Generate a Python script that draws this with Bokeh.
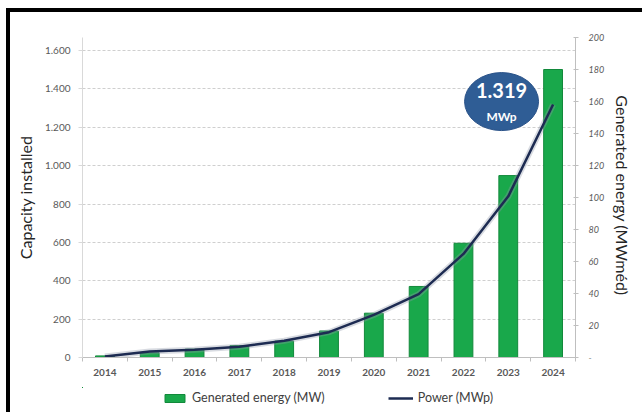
from bokeh.plotting import figure
from bokeh.models import (Range1d, LinearAxis, FixedTicker, Legend, LegendItem,
                          Label, ColumnDataSource)
from bokeh.layouts import column
from bokeh.embed import file_html
from bokeh.resources import INLINE

# ---------------- data ----------------
years = ["2014", "2015", "2016", "2017", "2018", "2019", "2020", "2021", "2022", "2023", "2024"]
power_mwp = [5, 31, 40, 56, 87, 132, 222, 330, 540, 840, 1319]          # left axis (line)
energy_mwmed = [1, 2.9, 5.2, 7.4, 10.3, 16.6, 27.7, 44.4, 71.4, 113.7, 180]  # right axis (bars)
left_ticks = [0, 200, 400, 600, 800, 1000, 1200, 1400, 1600]
right_ticks = [0, 20, 40, 60, 80, 100, 120, 140, 160, 180, 200]
left_title = "Capacity installed"
right_title = "Generated energy  (MWméd)"
bar_label = "Generated energy (MW)"
line_label = "Power (MWp)"
bubble_unit = "MWp"

FONT = "Lato"
BAR_FILL, BAR_LINE = "#19a84b", "#12893b"
LINE_COLOR = "#1d2b52"
W, H1, H2 = 632, 375, 25
x_idx = list(range(len(years)))
src = ColumnDataSource(dict(x=x_idx, power=power_mwp, energy=energy_mwmed))

p = figure(width=W, height=H1, output_backend="svg", toolbar_location=None,
           x_range=Range1d(-0.5, len(years) - 0.5), y_range=Range1d(0, 1668),
           min_border_left=72, min_border_right=67, min_border_top=25, min_border_bottom=30)
p.outline_line_color = None
p.background_fill_color = "white"
p.border_fill_color = "white"
p.extra_y_ranges = {"right": Range1d(0, 200)}

# grid
p.xgrid.grid_line_color = None
p.ygrid.ticker = FixedTicker(ticks=left_ticks)
p.ygrid.grid_line_color = "#cfcfcf"
p.ygrid.grid_line_dash = "3 2"

# left axis
ya = p.yaxis[0]
ya.ticker = FixedTicker(ticks=left_ticks)
ya.major_label_overrides = {v: f"{v:,}".replace(",", ".") for v in left_ticks}
ya.axis_label = left_title
ya.axis_label_text_font = FONT
ya.axis_label_text_font_size = "16px"
ya.axis_label_text_font_style = "normal"
ya.axis_label_text_color = "#262626"
ya.axis_label_standoff = 7
ya.major_label_text_font = FONT
ya.major_label_text_font_size = "10px"
ya.major_label_text_color = "#595959"
ya.major_label_standoff = 8
ya.axis_line_color = "#d9d9d9"
ya.major_tick_line_color = "#d9d9d9"
ya.major_tick_out = 4
ya.major_tick_in = 0
ya.minor_tick_line_color = None

# right axis
ra = LinearAxis(y_range_name="right", ticker=FixedTicker(ticks=right_ticks))
ra.major_label_overrides = {0: "-"}
ra.axis_label = right_title
ra.axis_label_text_font = FONT
ra.axis_label_text_font_size = "16px"
ra.axis_label_text_font_style = "normal"
ra.axis_label_text_color = "#262626"
ra.axis_label_standoff = 6
ra.major_label_text_font = FONT
ra.major_label_text_font_size = "9px"
ra.major_label_text_font_style = "italic"
ra.major_label_text_color = "#595959"
ra.major_label_standoff = 10
ra.axis_line_color = "#bfbfbf"
ra.major_tick_line_color = "#bfbfbf"
ra.major_tick_out = 3
ra.major_tick_in = 2
ra.minor_tick_line_color = None
p.add_layout(ra, "right")

# x axis
xa = p.xaxis[0]
xa.ticker = FixedTicker(ticks=x_idx, minor_ticks=[i - 0.5 for i in range(len(years) + 1)])
xa.major_label_overrides = {i: y for i, y in enumerate(years)}
xa.major_label_text_font = FONT
xa.major_label_text_font_size = "10px"
xa.major_label_text_font_style = "bold"
xa.major_label_text_color = "#595959"
xa.major_label_standoff = 7
xa.major_tick_line_color = None
xa.major_tick_out = 0
xa.major_tick_in = 0
xa.minor_tick_line_color = "#bfbfbf"
xa.minor_tick_out = 4
xa.minor_tick_in = 0
xa.axis_line_color = "#bfbfbf"

# bars (right axis)
p.vbar(x="x", top="energy", width=0.42, source=src, y_range_name="right",
       fill_color=BAR_FILL, line_color=BAR_LINE, line_width=1)

# line (left axis) with soft shadow
p.line(x="x", y="power", source=src, line_width=6, line_color="#8e97a8", line_alpha=0.35)
p.line(x="x", y="power", source=src, line_width=2.5, line_color=LINE_COLOR)

# bubble annotation near the last point
bx = x_idx[-1] - 1.15
by = power_mwp[-1] + 15
p.ellipse(x=[bx], y=[by], width=74, height=58, width_units="screen", height_units="screen",
          fill_color="#2f5d95", line_color="#2a5288", line_width=1)
p.add_layout(Label(x=bx, y=by, x_offset=0, y_offset=11, text=f"{power_mwp[-1]:,}".replace(",", "."),
                   text_align="center", text_baseline="middle", text_color="white",
                   text_font=FONT, text_font_size="20px", text_font_style="bold"))
p.add_layout(Label(x=bx, y=by, x_offset=0, y_offset=-15, text=bubble_unit,
                   text_align="center", text_baseline="middle", text_color="white",
                   text_font=FONT, text_font_size="12px", text_font_style="bold"))

# ---------------- legend strip below the chart ----------------
# key renderers reuse the data; this strip's ranges show none of it
q = figure(width=W, height=H2, output_backend="svg", toolbar_location=None,
           x_range=Range1d(len(years) + 10, len(years) + 11), y_range=Range1d(-20, -10),
           x_axis_location=None, y_axis_location=None,
           min_border_left=0, min_border_right=0, min_border_top=0, min_border_bottom=0)
q.outline_line_color = None
q.grid.grid_line_color = None
q.background_fill_color = "white"
q.border_fill_color = "white"
key_bar = q.vbar(x="x", top="energy", width=0.42, source=src, fill_color=BAR_FILL, line_color=BAR_LINE)
key_line = q.line(x="x", y="power", source=src, line_width=2.5, line_color=LINE_COLOR)
legend = Legend(items=[LegendItem(label=bar_label, renderers=[key_bar]),
                       LegendItem(label=line_label, renderers=[key_line])],
                orientation="horizontal", location=(80, 7), spacing=63,
                glyph_width=25, glyph_height=10, label_height=12, label_standoff=5,
                padding=0, margin=0, border_line_color=None, background_fill_alpha=0,
                label_text_font=FONT, label_text_font_size="12.5px", label_text_color="#404040")
q.add_layout(legend)

layout = column(p, q, spacing=0, margin=(8, 0, 0, 6))
layout.stylesheets = [":host { border-left: 4px solid #000 !important; border-top: 4px solid #000 !important; }"]

open("out.html", "w").write(file_html(layout, INLINE))
